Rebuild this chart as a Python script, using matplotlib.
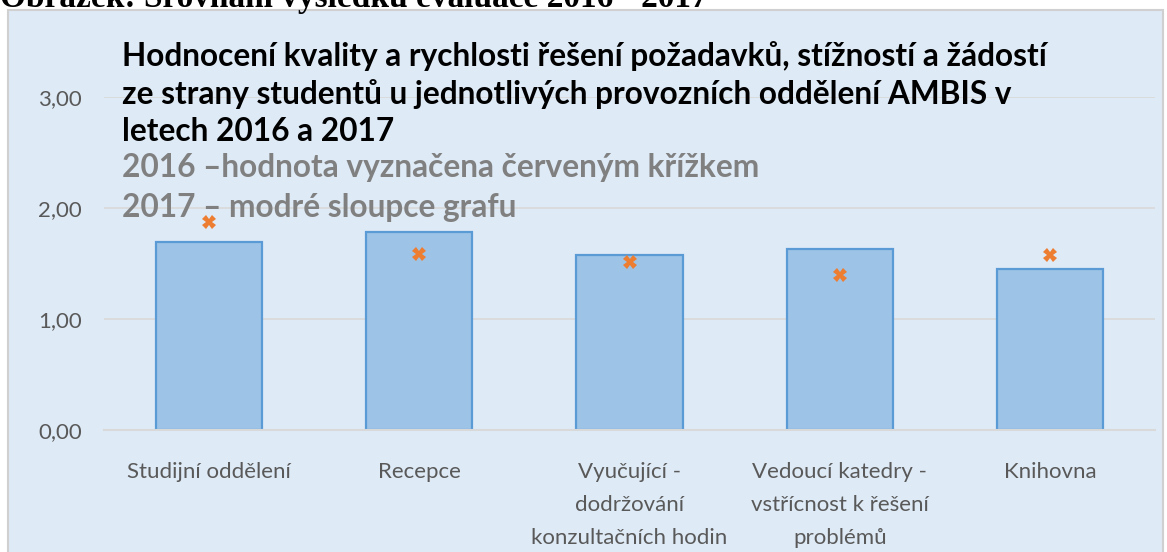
import matplotlib
matplotlib.use("Agg")
import matplotlib.pyplot as plt
from matplotlib.patches import Rectangle
from matplotlib.ticker import FuncFormatter

categories = ["Studijní oddělení", "Recepce",
              "Vyučující -\ndodržování\nkonzultačních hodin",
              "Vedoucí katedry -\nvstřícnost k řešení\nproblémů",
              "Knihovna"]
values_2017 = [1.69, 1.78, 1.58, 1.63, 1.45]
values_2016 = [1.87, 1.59, 1.51, 1.40, 1.58]
yticks = [0, 1, 2, 3]

W, H = 1167, 552
fig = plt.figure(figsize=(W / 100, H / 100), dpi=100)

# light blue chart panel
panel = Rectangle((8 / W, -0.01), 1155 / W, (H - 10) / H + 0.01,
                  transform=fig.transFigure, facecolor="#DEEAF6",
                  edgecolor="#D0D0D0", linewidth=1.5, zorder=-10)
fig.patches.append(panel)

ax = fig.add_axes([104 / W, 1 - 430 / H, (1155 - 104) / W, (430 - 97) / H])
ax.set_facecolor("none")
ax.set_zorder(1)

x = range(len(categories))
ax.bar(x, values_2017, width=0.505, color="#9DC3E6", edgecolor="#5B9BD5",
       linewidth=1.6, zorder=2)
ax.plot(x, values_2016, linestyle="none", marker="X", markersize=10,
        color="#ED7D31", markeredgewidth=0, zorder=3)

ax.set_xlim(-0.5, len(categories) - 0.5)
ax.set_ylim(0, 3)
ax.set_yticks(yticks)
ax.yaxis.set_major_formatter(FuncFormatter(lambda v, p: f"{v:.2f}".replace(".", ",")))
ax.grid(axis="y", color="#D9D9D9", linewidth=1.2, zorder=1)
ax.set_axisbelow(True)
for s in ["top", "right", "left"]:
    ax.spines[s].set_visible(False)
ax.spines["bottom"].set_color("#D9D9D9")
ax.spines["bottom"].set_linewidth(1.5)
ax.tick_params(axis="both", length=0, labelcolor="#595959", labelsize=16)
ax.tick_params(axis="y", pad=16)
ax.tick_params(axis="x", pad=23)
ax.set_xticks(list(x))
ax.set_xticklabels(categories, family="Lato", linespacing=1.8, ha="center")
for lbl in ax.get_yticklabels():
    lbl.set_family("Lato")

# caption above panel (cut off at top edge)
fig.text(0, 1 - 7 / H, "Obrázek: Srovnání výsledků evaluace 2016 - 2017",
         family="Liberation Serif", weight="bold", fontsize=24, va="baseline")

title_lines = ["Hodnocení kvality a rychlosti řešení požadavků, stížností a žádostí",
               "ze strany studentů u jednotlivých provozních oddělení AMBIS v",
               "letech 2016 a 2017"]
sub_lines = ["2016 –hodnota vyznačena červeným křížkem",
             "2017 – modré sloupce grafu"]
ys = [56, 94, 131, 168, 207]
for i, t in enumerate(title_lines):
    fig.text(122 / W, 1 - ys[i] / H, t, family="Lato", weight="bold",
             fontsize=22.8, color="black", va="center", zorder=5)
for j, t in enumerate(sub_lines):
    fig.text(122 / W, 1 - ys[3 + j] / H, t, family="Lato", weight="bold",
             fontsize=22.8, color="#808080", va="center", zorder=5)

fig.savefig("out.png", dpi=100)
